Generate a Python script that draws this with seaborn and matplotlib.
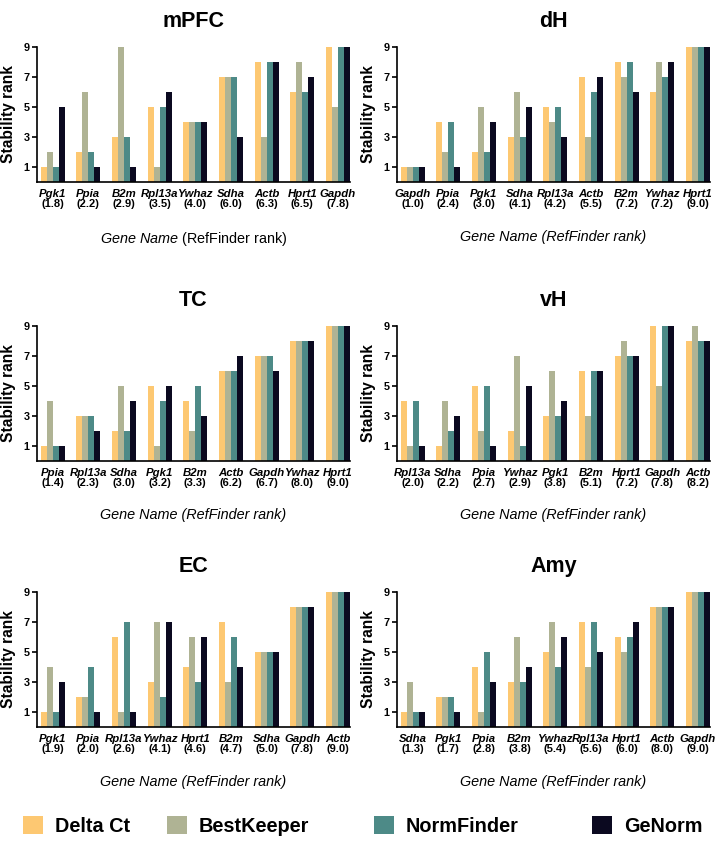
import matplotlib
matplotlib.use("Agg")
import matplotlib.pyplot as plt
import matplotlib.transforms as mtransforms
from matplotlib.patches import Patch
import seaborn as sns
import pandas as pd

sns.set_theme(style="ticks")
plt.rcParams['font.family'] = ['Liberation Sans', 'DejaVu Sans']
plt.rcParams['mathtext.fontset'] = 'custom'
plt.rcParams['mathtext.rm'] = 'Liberation Sans'
plt.rcParams['mathtext.it'] = 'Liberation Sans:italic'
plt.rcParams['mathtext.bf'] = 'Liberation Sans:bold'
for k in ['text.color', 'axes.labelcolor', 'xtick.color', 'ytick.color', 'axes.edgecolor']:
    plt.rcParams[k] = 'black'

methods = ["Delta Ct", "BestKeeper", "NormFinder", "GeNorm"]
colors = ["#FDC872", "#AFB394", "#4D8A87", "#0B0920"]

# ---- mPFC ----
mpfc_genes = ["Pgk1", "Ppia", "B2m", "Rpl13a", "Ywhaz", "Sdha", "Actb", "Hprt1", "Gapdh"]
mpfc_rank = [1.8, 2.2, 2.9, 3.5, 4.0, 6.0, 6.3, 6.5, 7.8]
mpfc_delta = [1, 2, 3, 5, 4, 7, 8, 6, 9]
mpfc_best = [2, 6, 9, 1, 4, 7, 3, 8, 5]
mpfc_norm = [1, 2, 3, 5, 4, 7, 8, 6, 9]
mpfc_ge = [5, 1, 1, 6, 4, 3, 8, 7, 9]

# ---- dH ----
dh_genes = ["Gapdh", "Ppia", "Pgk1", "Sdha", "Rpl13a", "Actb", "B2m", "Ywhaz", "Hprt1"]
dh_rank = [1.0, 2.4, 3.0, 4.1, 4.2, 5.5, 7.2, 7.2, 9.0]
dh_delta = [1, 4, 2, 3, 5, 7, 8, 6, 9]
dh_best = [1, 2, 5, 6, 4, 3, 7, 8, 9]
dh_norm = [1, 4, 2, 3, 5, 6, 8, 7, 9]
dh_ge = [1, 1, 4, 5, 3, 7, 6, 8, 9]

# ---- TC ----
tc_genes = ["Ppia", "Rpl13a", "Sdha", "Pgk1", "B2m", "Actb", "Gapdh", "Ywhaz", "Hprt1"]
tc_rank = [1.4, 2.3, 3.0, 3.2, 3.3, 6.2, 6.7, 8.0, 9.0]
tc_delta = [1, 3, 2, 5, 4, 6, 7, 8, 9]
tc_best = [4, 3, 5, 1, 2, 6, 7, 8, 9]
tc_norm = [1, 3, 2, 4, 5, 6, 7, 8, 9]
tc_ge = [1, 2, 4, 5, 3, 7, 6, 8, 9]

# ---- vH ----
vh_genes = ["Rpl13a", "Sdha", "Ppia", "Ywhaz", "Pgk1", "B2m", "Hprt1", "Gapdh", "Actb"]
vh_rank = [2.0, 2.2, 2.7, 2.9, 3.8, 5.1, 7.2, 7.8, 8.2]
vh_delta = [4, 1, 5, 2, 3, 6, 7, 9, 8]
vh_best = [1, 4, 2, 7, 6, 3, 8, 5, 9]
vh_norm = [4, 2, 5, 1, 3, 6, 7, 9, 8]
vh_ge = [1, 3, 1, 5, 4, 6, 7, 9, 8]

# ---- EC ----
ec_genes = ["Pgk1", "Ppia", "Rpl13a", "Ywhaz", "Hprt1", "B2m", "Sdha", "Gapdh", "Actb"]
ec_rank = [1.9, 2.0, 2.6, 4.1, 4.6, 4.7, 5.0, 7.8, 9.0]
ec_delta = [1, 2, 6, 3, 4, 7, 5, 8, 9]
ec_best = [4, 2, 1, 7, 6, 3, 5, 8, 9]
ec_norm = [1, 4, 7, 2, 3, 6, 5, 8, 9]
ec_ge = [3, 1, 1, 7, 6, 4, 5, 8, 9]

# ---- Amy ----
amy_genes = ["Sdha", "Pgk1", "Ppia", "B2m", "Ywhaz", "Rpl13a", "Hprt1", "Actb", "Gapdh"]
amy_rank = [1.3, 1.7, 2.8, 3.8, 5.4, 5.6, 6.0, 8.0, 9.0]
amy_delta = [1, 2, 4, 3, 5, 7, 6, 8, 9]
amy_best = [3, 2, 1, 6, 7, 4, 5, 8, 9]
amy_norm = [1, 2, 5, 3, 4, 7, 6, 8, 9]
amy_ge = [1, 1, 3, 4, 6, 5, 7, 8, 9]

panels = [
    ("mPFC", mpfc_genes, mpfc_rank, [mpfc_delta, mpfc_best, mpfc_norm, mpfc_ge]),
    ("dH", dh_genes, dh_rank, [dh_delta, dh_best, dh_norm, dh_ge]),
    ("TC", tc_genes, tc_rank, [tc_delta, tc_best, tc_norm, tc_ge]),
    ("vH", vh_genes, vh_rank, [vh_delta, vh_best, vh_norm, vh_ge]),
    ("EC", ec_genes, ec_rank, [ec_delta, ec_best, ec_norm, ec_ge]),
    ("Amy", amy_genes, amy_rank, [amy_delta, amy_best, amy_norm, amy_ge]),
]

W, H = 723, 846
fig = plt.figure(figsize=(W / 100, H / 100), dpi=100)

col_left = [37, 397]
ax_w = 313
row_top = [47, 326, 592]
ax_h = 135

for idx, (name, genes, ranks, vals) in enumerate(panels):
    r, c = divmod(idx, 2)
    ax = fig.add_axes([col_left[c] / W, 1 - (row_top[r] + ax_h) / H, ax_w / W, ax_h / H])
    rows = []
    for m, v in zip(methods, vals):
        for g, x in zip(genes, v):
            rows.append({"gene": g, "method": m, "value": x})
    df = pd.DataFrame(rows)
    sns.barplot(data=df, x="gene", y="value", hue="method", order=genes,
                hue_order=methods, palette=colors, width=0.67, linewidth=0,
                saturation=1, legend=False, ax=ax)
    ax.set_xlim(-0.44, 8.34)
    ax.set_ylim(0, 9)
    ax.set_yticks([1, 3, 5, 7, 9])
    ax.set_yticklabels(["1", "3", "5", "7", "9"], fontsize=7.8, fontweight="bold")
    ax.tick_params(axis="y", length=3.5, width=1.2, pad=2)
    ax.tick_params(axis="x", length=0, pad=5)
    ax.set_xticks(range(len(genes)))
    ax.set_xticklabels(genes, fontsize=8.2, fontweight="bold", fontstyle="italic")
    trans = mtransforms.blended_transform_factory(ax.transData, ax.transAxes)
    for i, rk in enumerate(ranks):
        ax.text(i, -0.165, f"({rk:.1f})", transform=trans, ha="center", va="center",
                fontsize=8, fontweight="bold")
    for s in ["top", "right"]:
        ax.spines[s].set_visible(False)
    for s in ["left", "bottom"]:
        ax.spines[s].set_linewidth(1.2)
        ax.spines[s].set_color("black")
    ax.set_ylabel("Stability rank", fontsize=11.2, fontweight="bold", labelpad=5)
    if name == "mPFC":
        xl = r"$\it{Gene\ Name}$ (RefFinder rank)"
        ax.set_xlabel(xl, fontsize=10.4, labelpad=22)
    else:
        ax.set_xlabel("Gene Name (RefFinder rank)", fontsize=10.4, fontstyle="italic", labelpad=22)
    ax.set_title(name, fontsize=15.5, fontweight="bold", pad=14.5)

legend_x = [23, 167, 374, 592]
for m, col, x in zip(methods, colors, legend_x):
    fig.legend(handles=[Patch(facecolor=col, edgecolor="none", label=m)],
               loc="center left", bbox_to_anchor=(x / W, 1 - 826 / H),
               frameon=False, borderpad=0, borderaxespad=0, handlelength=1.0,
               handleheight=1.0, handletextpad=0.6,
               prop={"size": 14.3, "weight": "bold"})

fig.savefig("out.png", dpi=100)
